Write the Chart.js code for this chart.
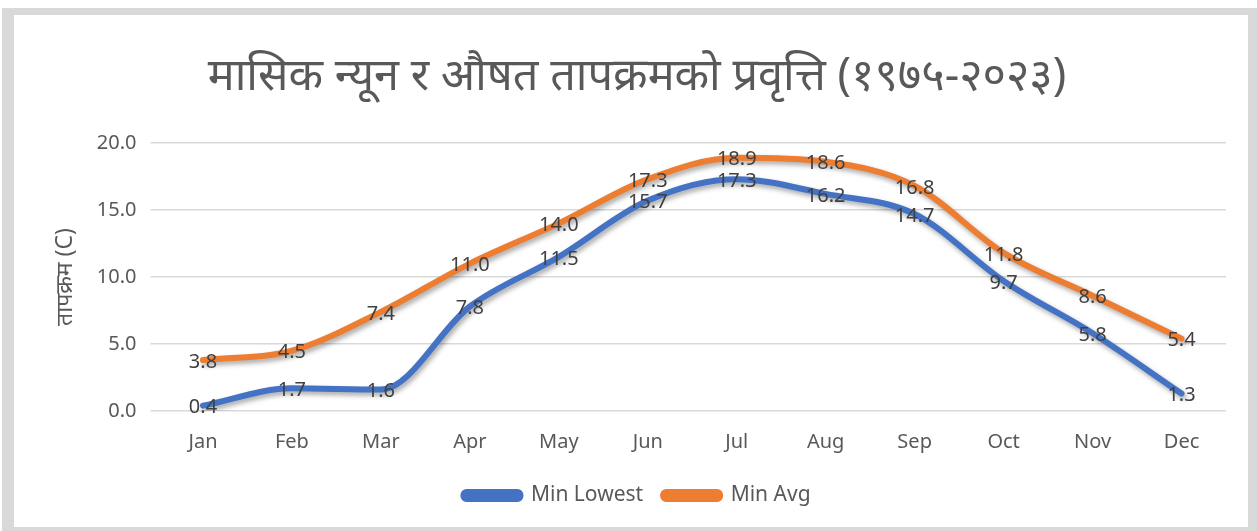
<!DOCTYPE html>
<html>
<head>
<meta charset="utf-8">
<script src="https://cdn.jsdelivr.net/npm/chart.js@4"></script>
<style>
  body { margin: 0; background: #fff; }
  #frame { position: absolute; left: 2px; top: 8px; width: 1255px; height: 523px; background: #D9D9D9; }
  #box { position: absolute; left: 12px; top: 7px; width: 1234px; height: 512px; background: #fff; }
</style>
</head>
<body>
<div id="frame"><div id="box"><canvas id="myChart" width="1234" height="512"></canvas></div></div>
<script>
var months = ['Jan', 'Feb', 'Mar', 'Apr', 'May', 'Jun', 'Jul', 'Aug', 'Sep', 'Oct', 'Nov', 'Dec'];
var minLowest = [0.4, 1.7, 1.6, 7.8, 11.5, 15.7, 17.3, 16.2, 14.7, 9.7, 5.8, 1.3];
var minAvg = [3.8, 4.5, 7.4, 11.0, 14.0, 17.3, 18.9, 18.6, 16.8, 11.8, 8.6, 5.4];
var yTicks = [0, 5, 10, 15, 20];

var fontFam = '"Noto Sans", "Open Sans", sans-serif';

// soft shadow under each line, like the spreadsheet chart
var lineShadow = {
    id: 'lineShadow',
    beforeDatasetDraw: function (chart) {
        var c = chart.ctx;
        c.save();
        c.shadowColor = 'rgba(0,0,0,0.35)';
        c.shadowBlur = 5;
        c.shadowOffsetX = 2;
        c.shadowOffsetY = 3;
    },
    afterDatasetDraw: function (chart) {
        chart.ctx.restore();
    }
};

// value labels centred on each point
var valueLabels = {
    id: 'valueLabels',
    afterDatasetsDraw: function (chart) {
        var c = chart.ctx;
        c.save();
        c.font = '20px ' + fontFam;
        c.fillStyle = '#404040';
        c.textAlign = 'center';
        c.textBaseline = 'middle';
        chart.data.datasets.forEach(function (ds, i) {
            chart.getDatasetMeta(i).data.forEach(function (pt, j) {
                c.fillText(ds.data[j].toFixed(1), pt.x, pt.y + 2);
            });
        });
        c.restore();
    }
};

var ctx = document.getElementById('myChart').getContext('2d');
var myChart = new Chart(ctx, {
    type: 'line',
    data: {
        labels: months,
        datasets: [{
            label: 'Min Lowest',
            data: minLowest,
            borderColor: '#4472C4',
            backgroundColor: '#4472C4',
            borderWidth: 6,
            cubicInterpolationMode: 'monotone',
            pointRadius: 0,
            borderCapStyle: 'round',
            borderJoinStyle: 'round'
        }, {
            label: 'Min Avg',
            data: minAvg,
            borderColor: '#ED7D31',
            backgroundColor: '#ED7D31',
            borderWidth: 6,
            cubicInterpolationMode: 'monotone',
            pointRadius: 0,
            borderCapStyle: 'round',
            borderJoinStyle: 'round'
        }]
    },
    options: {
        responsive: false,
        animation: false,
        layout: { padding: { left: 34, right: 22, top: 0, bottom: 11 } },
        plugins: {
            title: {
                display: true,
                text: 'मासिक न्यून र औषत तापक्रमको प्रवृत्ति (१९७५-२०२३)',
                color: '#595959',
                font: { size: 45, family: fontFam, weight: 'normal' },
                padding: { top: 35, bottom: 39 }
            },
            legend: {
                position: 'bottom',
                labels: {
                    color: '#595959',
                    font: { size: 21, family: fontFam },
                    boxWidth: 57,
                    boxHeight: 7,
                    useBorderRadius: true,
                    borderRadius: 3,
                    padding: 20
                }
            },
            tooltip: { enabled: false }
        },
        scales: {
            x: {
                offset: true,
                grid: { display: false },
                border: { display: false },
                ticks: { color: '#595959', font: { size: 20, family: fontFam }, padding: 11 }
            },
            y: {
                min: 0,
                max: 20,
                afterFit: function (scale) { scale.width = 110.5; },
                afterBuildTicks: function (scale) {
                    scale.ticks = yTicks.map(function (v) { return { value: v }; });
                },
                grid: { color: '#D9D9D9', lineWidth: 1.5 },
                border: { display: false },
                ticks: {
                    color: '#595959',
                    font: { size: 20, family: fontFam },
                    padding: 14,
                    callback: function (v) { return v.toFixed(1); }
                },
                title: {
                    display: true,
                    text: 'तापक्रम (C)',
                    color: '#595959',
                    font: { size: 23, family: fontFam }
                }
            }
        }
    },
    plugins: [lineShadow, valueLabels]
});
</script>
</body>
</html>
